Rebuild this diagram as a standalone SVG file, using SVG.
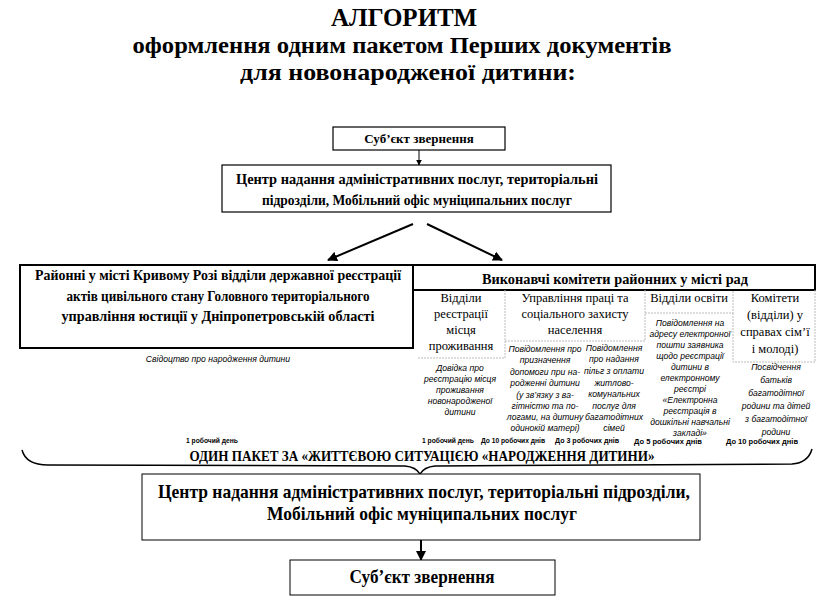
<svg xmlns="http://www.w3.org/2000/svg" width="829" height="604" viewBox="0 0 829 604">
<defs>
<style>
.t{font-family:"Liberation Serif","DejaVu Serif",serif;font-weight:bold;fill:#000;text-anchor:middle}
.r{font-family:"Liberation Serif","DejaVu Serif",serif;fill:#000;text-anchor:middle;font-size:12.5px}
.i{font-family:"Liberation Sans","DejaVu Sans",sans-serif;font-style:italic;fill:#000;text-anchor:middle;font-size:8.6px}
.d{font-family:"Liberation Sans","DejaVu Sans",sans-serif;fill:#000;text-anchor:middle;font-size:8px;font-weight:bold}
.box{fill:#fff;stroke:#000}
.lt{fill:none;stroke:#bbb;stroke-width:1;stroke-dasharray:2 1}
.c{fill:none;stroke:#000}
</style>
<marker id="ah" viewBox="0 0 10 10" refX="9" refY="5" markerWidth="6" markerHeight="6" orient="auto" markerUnits="userSpaceOnUse"><path d="M0,0 L10,5 L0,10 z" fill="#000"/></marker>
<marker id="ahb" viewBox="0 0 10 10" refX="9" refY="5" markerWidth="10" markerHeight="10" orient="auto" markerUnits="userSpaceOnUse"><path d="M0,0 L10,5 L0,10 z" fill="#000"/></marker>
</defs>
<rect width="829" height="604" fill="#fff"/>

<g id="title">
<text class="t" x="404" y="26" font-size="26" textLength="146" lengthAdjust="spacingAndGlyphs">АЛГОРИТМ</text>
<text class="t" x="402" y="53" font-size="24" textLength="539" lengthAdjust="spacingAndGlyphs">оформлення одним пакетом Перших документів</text>
<text class="t" x="408" y="80" font-size="24" textLength="336" lengthAdjust="spacingAndGlyphs">для новонародженої дитини:</text>
</g>

<g id="connectors">
<line class="c" x1="419" y1="150" x2="419" y2="165" stroke-width="1" marker-end="url(#ah)"/>
<line class="c" x1="413" y1="224" x2="328" y2="260" stroke-width="2" marker-end="url(#ahb)"/>
<line class="c" x1="427" y1="224" x2="502" y2="260" stroke-width="2" marker-end="url(#ahb)"/>
<path class="c" stroke-width="1.5" d="M22,450 Q26,465 48,465 L405,466 Q416,467 420,474 Q424,467 435,466 L792,464 Q808,463 812,449"/>
<line class="c" x1="421" y1="540" x2="421" y2="560" stroke-width="2" marker-end="url(#ahb)"/>
</g>

<g id="subject-top">
<rect class="box" x="333" y="127" width="172" height="23" stroke-width="1.2"/>
<text class="t" x="419" y="143" font-size="13">Суб’єкт звернення</text>
</g>

<g id="center-top">
<rect class="box" x="222" y="165" width="389" height="47" stroke-width="1.2"/>
<text class="t" x="417" y="184" font-size="14" textLength="362" lengthAdjust="spacingAndGlyphs">Центр надання адміністративних послуг, територіальні</text>
<text class="t" x="417" y="205" font-size="14" textLength="310" lengthAdjust="spacingAndGlyphs">підрозділи, Мобільний офіс муніципальних послуг</text>
</g>

<g id="registry">
<rect class="box" x="20" y="265" width="393" height="83" stroke-width="2"/>
<text class="t" x="218" y="280" font-size="14" textLength="366" lengthAdjust="spacingAndGlyphs">Районні у місті Кривому Розі відділи державної реєстрації</text>
<text class="t" x="218" y="301" font-size="14" textLength="303" lengthAdjust="spacingAndGlyphs">актів цивільного стану Головного територіального</text>
<text class="t" x="218" y="321" font-size="14" textLength="313" lengthAdjust="spacingAndGlyphs">управління юстиції у Дніпропетровській області</text>
<text class="i" x="218" y="362">Свідоцтво про народження дитини</text>
</g>

<g id="executive">
<rect class="box" x="413" y="265" width="402" height="25" stroke-width="2"/>
<text class="t" x="615" y="284" font-size="14.5" textLength="266" lengthAdjust="spacingAndGlyphs">Виконавчі комітети районних у місті рад</text>
</g>

<g id="col-residence">
<path class="lt" d="M418,358 H505 V290"/>
<text class="r" x="461" y="302">Відділи</text>
<text class="r" x="461" y="318">реєстрації</text>
<text class="r" x="461" y="334">місця</text>
<text class="r" x="461" y="350">проживання</text>
<text class="i" x="460" y="371">Довідка про</text>
<text class="i" x="460" y="382">реєстрацію місця</text>
<text class="i" x="460" y="393">проживання</text>
<text class="i" x="460" y="404">новонародженої</text>
<text class="i" x="460" y="415">дитини</text>
</g>

<g id="col-social">
<path class="lt" d="M505,341 H645 V290"/>
<text class="r" x="575" y="302">Управління праці та</text>
<text class="r" x="575" y="318">соціального захисту</text>
<text class="r" x="575" y="334">населення</text>
<text class="i" x="545" y="352">Повідомлення про</text>
<text class="i" x="545" y="363">призначення</text>
<text class="i" x="545" y="375">допомоги при на-</text>
<text class="i" x="545" y="386">родженні дитини</text>
<text class="i" x="545" y="398">(у зв’язку з ва-</text>
<text class="i" x="545" y="409">гітністю та по-</text>
<text class="i" x="545" y="420">логами, на дитину</text>
<text class="i" x="545" y="431">одинокій матері)</text>
<text class="i" x="614" y="351">Повідомлення</text>
<text class="i" x="614" y="362">про надання</text>
<text class="i" x="614" y="374">пільг з оплати</text>
<text class="i" x="614" y="386">житлово-</text>
<text class="i" x="614" y="397">комунальних</text>
<text class="i" x="614" y="409">послуг для</text>
<text class="i" x="614" y="420">багатодітних</text>
<text class="i" x="614" y="431">сімей</text>
</g>

<g id="col-education">
<path class="lt" d="M645,313 H733 V290"/>
<text class="r" x="689" y="302">Відділи освіти</text>
<text class="i" x="690" y="326">Повідомлення на</text>
<text class="i" x="690" y="337">адресу електронної</text>
<text class="i" x="690" y="348">пошти заявника</text>
<text class="i" x="690" y="359">щодо реєстрації</text>
<text class="i" x="690" y="370">дитини в</text>
<text class="i" x="690" y="381">електронному</text>
<text class="i" x="690" y="392">реєстрі</text>
<text class="i" x="690" y="403">«Електронна</text>
<text class="i" x="690" y="414">реєстрація в</text>
<text class="i" x="690" y="425">дошкільні навчальні</text>
<text class="i" x="690" y="436">закладі»</text>
</g>

<g id="col-family">
<path class="lt" d="M733,313 V362 H815 V290"/>
<text class="r" x="775" y="302">Комітети</text>
<text class="r" x="775" y="319">(відділи) у</text>
<text class="r" x="775" y="336">справах сім’ї</text>
<text class="r" x="775" y="353">і молоді)</text>
<text class="i" x="776" y="370">Посвідчення</text>
<text class="i" x="776" y="383">батьків</text>
<text class="i" x="776" y="396">багатодітної</text>
<text class="i" x="776" y="409">родини та дітей</text>
<text class="i" x="776" y="422">з багатодітної</text>
<text class="i" x="776" y="435">родини</text>
</g>

<g id="terms">
<text class="d" x="212" y="443" textLength="52" lengthAdjust="spacingAndGlyphs">1 робочий день</text>
<text class="d" x="448" y="443" textLength="52" lengthAdjust="spacingAndGlyphs">1 робочий день</text>
<text class="d" x="513" y="443" textLength="64" lengthAdjust="spacingAndGlyphs">До 10 робочих днів</text>
<text class="d" x="587" y="443" textLength="64" lengthAdjust="spacingAndGlyphs">До 3 робочих днів</text>
<text class="d" x="668" y="444" textLength="68" lengthAdjust="spacingAndGlyphs">До 5 робочих днів</text>
<text class="d" x="762" y="444" textLength="72" lengthAdjust="spacingAndGlyphs">До 10 робочих днів</text>
<text class="t" x="422" y="461" font-size="14" textLength="465" lengthAdjust="spacingAndGlyphs">ОДИН ПАКЕТ ЗА «ЖИТТЄВОЮ СИТУАЦІЄЮ «НАРОДЖЕННЯ ДИТИНИ»</text>
</g>

<g id="center-bottom">
<rect class="box" x="142" y="474" width="558" height="66" stroke-width="1"/>
<text class="t" x="424" y="498" font-size="19" textLength="532" lengthAdjust="spacingAndGlyphs">Центр надання адміністративних послуг, територіальні підрозділи,</text>
<text class="t" x="422" y="520" font-size="19" textLength="310" lengthAdjust="spacingAndGlyphs">Мобільний офіс муніципальних послуг</text>
</g>

<g id="subject-bottom">
<rect class="box" x="290" y="560" width="265" height="35" stroke-width="1"/>
<text class="t" x="422" y="583" font-size="18" textLength="145" lengthAdjust="spacingAndGlyphs">Суб’єкт звернення</text>
</g>
</svg>
